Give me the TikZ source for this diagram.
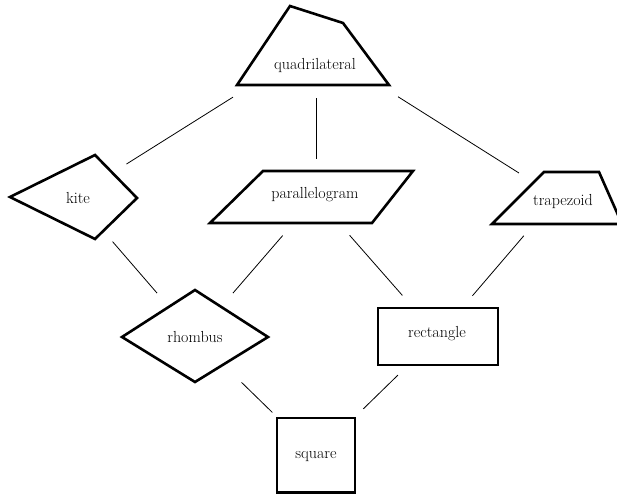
\documentclass[tikz,border=0pt]{standalone}
\usetikzlibrary{calc}
\tikzset{
  shp/.style={line width=2.6pt, line join=miter},
  conn/.style={line width=0.8pt},
  lbl/.style={inner sep=0pt, font=\fontsize{16}{19}\selectfont, text=black}
}
\begin{document}
\begin{tikzpicture}[x=1pt,y=-1pt]
\useasboundingbox (0,0) rectangle (617,495);
\clip (0,0) rectangle (617,495);
% centres used by connectors
\coordinate (q) at (316,45);
\coordinate (k) at (74,197);
\coordinate (p) at (316,197);
\coordinate (t) at (557,197);
\coordinate (r) at (195,337);
\coordinate (rc) at (438,336);
\coordinate (s) at (316,455);
% shapes
\draw[shp] (237,85) -- (290,6) -- (343,23) -- (389,85) -- cycle;
\draw[shp] (10,197) -- (95,155) -- (137,198) -- (95,239) -- cycle;
\draw[shp] (263,171) -- (413,171) -- (372,223) -- (210,223) -- cycle;
\draw[shp] (544,172) -- (599,172) -- (622,224) -- (492,224) -- cycle;
\draw[shp] (122,337) -- (195,290) -- (268,337) -- (195,382) -- cycle;
\draw[shp] (378,308) rectangle (498,365);
\draw[shp] (277,418) rectangle (355,492.5);
% labels
\node[lbl] (qt) at (315,66) {quadrilateral};
\node[lbl] (kt) at (78,198) {kite};
\node[lbl] (pt) at (315,195) {parallelogram};
\node[lbl] (tt) at (563,202) {trapezoid};
\node[lbl] (rt) at (195,337) {rhombus};
\node[lbl] (rct) at (437,334) {rectangle};
\node[lbl] (st) at (316,457) {square};
% connectors
\draw[conn] ($(q)!98pt!(k)$) -- ($(k)!62pt!(q)$);
\draw[conn] ($(q)!53pt!(p)$) -- ($(p)!38pt!(q)$);
\draw[conn] ($(q)!97pt!(t)$) -- ($(t)!45pt!(q)$);
\draw[conn] ($(k)!59pt!(r)$) -- ($(r)!58pt!(k)$);
\draw[conn] ($(p)!51pt!(r)$) -- ($(r)!58pt!(p)$);
\draw[conn] ($(p)!51pt!(rc)$) -- ($(rc)!54pt!(p)$);
\draw[conn] ($(t)!51pt!(rc)$) -- ($(rc)!53pt!(t)$);
\draw[conn] ($(r)!65pt!(s)$) -- ($(s)!61pt!(r)$);
\draw[conn] ($(rc)!56pt!(s)$) -- ($(s)!66pt!(rc)$);
\end{tikzpicture}
\end{document}
